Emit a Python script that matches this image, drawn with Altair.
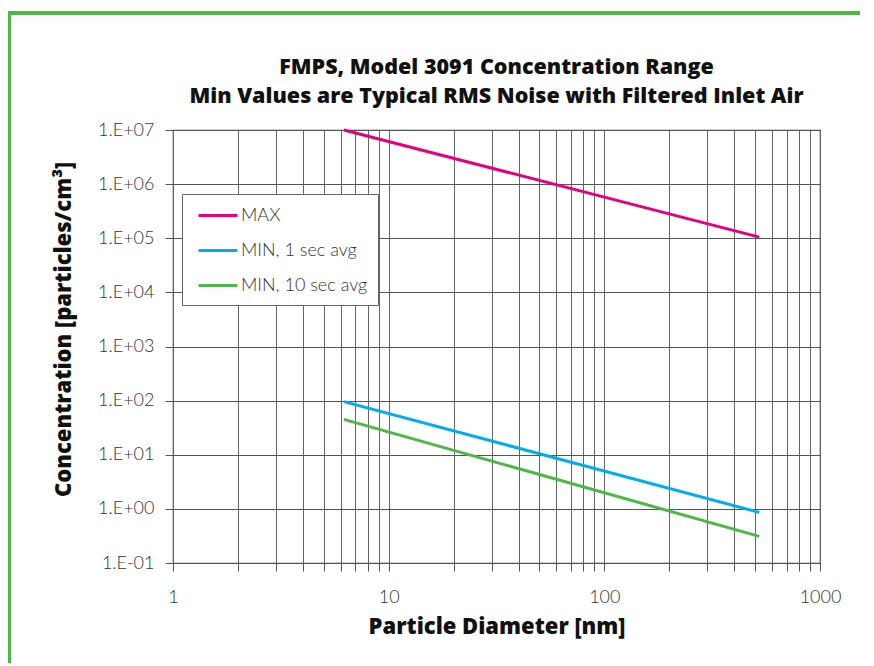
import altair as alt
import pandas as pd

series = ["MAX", "MIN, 1 sec avg", "MIN, 10 sec avg"]
colors = ["#E6007E", "#00AEEF", "#4DB848"]
diameters = [6.2, 523]
max_vals = [1.0e7, 1.05e5]
min1_vals = [96, 0.86]
min10_vals = [45, 0.31]
x_ticks = [v * m for m in [1, 10, 100] for v in range(1, 10)] + [1000]
y_ticks = [0.1, 1, 10, 100, 1e3, 1e4, 1e5, 1e6, 1e7]
title_lines = ["FMPS, Model 3091 Concentration Range",
               "Min Values are Typical RMS Noise with Filtered Inlet Air"]

rows = []
for name, vals in zip(series, [max_vals, min1_vals, min10_vals]):
    for d, v in zip(diameters, vals):
        rows.append({"series": name, "d": d, "c": v})
df = pd.DataFrame(rows)

W, H = 647, 433
LEFT, TOP = 165, 122
GREEN = "#4DB848"
TFONT = "Open Sans"

lines = alt.Chart(df).mark_line(strokeWidth=3, clip=False).encode(
    x=alt.X("d:Q",
            scale=alt.Scale(type="log", domain=[1, 1000], nice=False),
            axis=alt.Axis(values=x_ticks, title="Particle Diameter [nm]",
                          labelExpr="abs(log(datum.value)/LN10 - round(log(datum.value)/LN10)) < 0.000001 ? format(datum.value, 'd') : ''",
                          labelFlush=False, labelFont="Lato", labelFontSize=18,
                          labelFontWeight=300,
                          labelColor="#333", labelPadding=17,
                          tickSize=8, tickColor="#555", domain=False,
                          grid=True, gridColor="#666", gridOpacity=1,
                          titleFont=TFONT, titleFontSize=22, titleFontWeight=800,
                          titleColor="#111", titlePadding=10)),
    y=alt.Y("c:Q",
            scale=alt.Scale(type="log", domain=[0.1, 1e7], nice=False),
            axis=alt.Axis(values=y_ticks, title="Concentration [particles/cm³]",
                          labelExpr="'1.E' + (datum.value >= 1 ? '+' : '-') + (abs(round(log(datum.value)/LN10)) < 10 ? '0' : '') + abs(round(log(datum.value)/LN10))",
                          labelFont="Lato", labelFontSize=18, labelFontWeight=300,
                          labelColor="#333",
                          labelPadding=11, tickSize=8, tickColor="#555", domain=False,
                          grid=True, gridColor="#555", gridOpacity=1,
                          titleFont=TFONT, titleFontSize=22, titleFontWeight=800,
                          titleColor="#111", titleX=-110, titleY=199,
                          titleAlign="center", titleBaseline="middle")),
    color=alt.Color("series:N",
                    scale=alt.Scale(domain=series, range=colors),
                    legend=alt.Legend(title=None, orient="none", legendX=9, legendY=64,
                                      symbolType="M-0.5,0H3.4", symbolSize=400,
                                      symbolStrokeWidth=3, labelOffset=26,
                                      labelFont="Lato", labelFontSize=18,
                                      labelFontWeight=300,
                                      labelColor="#333", rowPadding=14, padding=10,
                                      strokeColor="#666", fillColor="white",
                                      labelLimit=300)),
)

title_df = pd.DataFrame({"text": title_lines})
title1 = alt.Chart(title_df.iloc[[0]]).mark_text(
    font=TFONT, fontSize=21.5, fontWeight=800, color="#111",
    align="center", baseline="middle").encode(
    text="text:N", x=alt.value(W / 2), y=alt.value(68 - 130))
title2 = alt.Chart(title_df.iloc[[1]]).mark_text(
    font=TFONT, fontSize=21.5, fontWeight=800, color="#111",
    align="center", baseline="middle").encode(
    text="text:N", x=alt.value(W / 2), y=alt.value(97 - 130))

deco = alt.Data(values=[{}])
top_line = alt.Chart(deco).mark_rule(color=GREEN, strokeWidth=4).encode(
    x=alt.value(-LEFT), x2=alt.value(870 - 173), y=alt.value(13 - 130))
left_line = alt.Chart(deco).mark_rule(color=GREEN, strokeWidth=4).encode(
    x=alt.value(-164), y=alt.value(11 - 130), y2=alt.value(666 - 130))
left_bar = alt.Chart(deco).mark_rule(color=GREEN, strokeWidth=10).encode(
    x=alt.value(-168), y=alt.value(593 - 130), y2=alt.value(666 - 130))

chart = alt.layer(lines, title1, title2, top_line, left_line, left_bar).properties(
    width=W, height=H,
    autosize=alt.AutoSizeParams(type="none"),
    padding={"left": LEFT, "top": TOP, "right": 40, "bottom": 100},
    background="white",
).configure_view(stroke="#444", strokeWidth=1.2)

chart.save("out.html", embed_options={"renderer": "svg", "actions": False})
